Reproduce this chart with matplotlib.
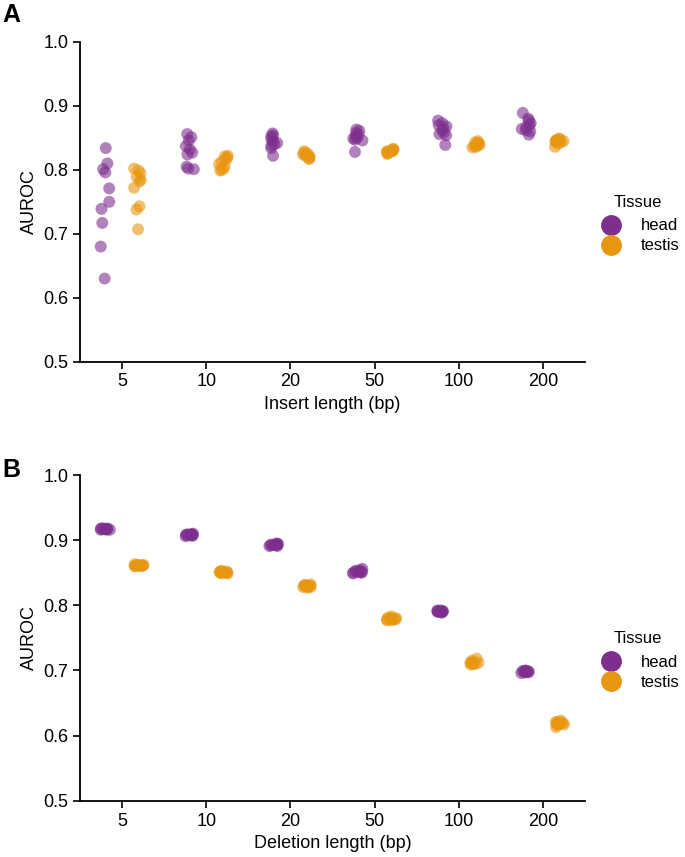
import matplotlib
matplotlib.use('Agg')
import matplotlib.pyplot as plt
import seaborn as sns
import numpy as np
import pandas as pd

lengths = ['5', '10', '20', '50', '100', '200']
tissues = ['head', 'testis']
colors = {'head': '#7E2F8E', 'testis': '#E8960F'}

# panel A: insertions, 10 replicates per group
ins_head = {
    '5': [0.834, 0.810, 0.801, 0.796, 0.771, 0.750, 0.739, 0.717, 0.680, 0.630],
    '10': [0.856, 0.851, 0.846, 0.837, 0.832, 0.827, 0.824, 0.805, 0.802, 0.801],
    '20': [0.857, 0.854, 0.852, 0.848, 0.845, 0.842, 0.840, 0.838, 0.834, 0.822],
    '50': [0.863, 0.861, 0.858, 0.855, 0.852, 0.850, 0.849, 0.847, 0.846, 0.828],
    '100': [0.877, 0.873, 0.870, 0.868, 0.865, 0.862, 0.858, 0.856, 0.854, 0.839],
    '200': [0.889, 0.880, 0.877, 0.873, 0.870, 0.867, 0.864, 0.862, 0.860, 0.855],
}
ins_testis = {
    '5': [0.802, 0.799, 0.795, 0.789, 0.785, 0.782, 0.772, 0.743, 0.738, 0.707],
    '10': [0.822, 0.821, 0.819, 0.817, 0.813, 0.809, 0.806, 0.802, 0.800, 0.799],
    '20': [0.829, 0.827, 0.826, 0.824, 0.823, 0.822, 0.821, 0.820, 0.818, 0.817],
    '50': [0.833, 0.832, 0.831, 0.830, 0.829, 0.829, 0.828, 0.827, 0.826, 0.825],
    '100': [0.845, 0.843, 0.842, 0.841, 0.840, 0.839, 0.838, 0.837, 0.836, 0.835],
    '200': [0.849, 0.848, 0.847, 0.846, 0.845, 0.845, 0.844, 0.843, 0.841, 0.836],
}

# panel B: deletions
del_head = {
    '5': [0.918, 0.918, 0.917, 0.917, 0.917, 0.916, 0.916, 0.917, 0.918, 0.916],
    '10': [0.910, 0.909, 0.909, 0.908, 0.908, 0.907, 0.907, 0.908, 0.909, 0.906],
    '20': [0.895, 0.894, 0.893, 0.893, 0.892, 0.892, 0.891, 0.891, 0.893, 0.894],
    '50': [0.856, 0.854, 0.852, 0.851, 0.851, 0.850, 0.850, 0.849, 0.852, 0.853],
    '100': [0.792, 0.791, 0.791, 0.790, 0.790, 0.789, 0.789, 0.790, 0.791, 0.792],
    '200': [0.700, 0.699, 0.699, 0.698, 0.698, 0.697, 0.697, 0.696, 0.698, 0.699],
}
del_testis = {
    '5': [0.863, 0.862, 0.862, 0.861, 0.861, 0.860, 0.860, 0.861, 0.862, 0.860],
    '10': [0.853, 0.852, 0.852, 0.851, 0.850, 0.850, 0.849, 0.849, 0.851, 0.850],
    '20': [0.832, 0.831, 0.830, 0.829, 0.829, 0.828, 0.828, 0.827, 0.830, 0.831],
    '50': [0.783, 0.781, 0.780, 0.779, 0.778, 0.778, 0.777, 0.777, 0.779, 0.780],
    '100': [0.718, 0.715, 0.713, 0.712, 0.711, 0.711, 0.710, 0.710, 0.712, 0.709],
    '200': [0.623, 0.621, 0.620, 0.619, 0.618, 0.618, 0.617, 0.616, 0.613, 0.620],
}


def to_frame(head, testis):
    rows = []
    for t, d in zip(tissues, [head, testis]):
        for k in lengths:
            for v in d[k]:
                rows.append((k, t, v))
    return pd.DataFrame(rows, columns=['length', 'Tissue', 'AUROC'])


plt.rcParams['font.family'] = ['Liberation Sans', 'DejaVu Sans']
fs = 13

fig = plt.figure(figsize=(6.85, 8.57), dpi=100)
ax_a = fig.add_axes([0.1168, 0.578, 0.737, 0.373])
ax_b = fig.add_axes([0.1168, 0.0657, 0.737, 0.380])

np.random.seed(3)
for ax, (h, t), xlab in [(ax_a, (ins_head, ins_testis), 'Insert length (bp)'),
                         (ax_b, (del_head, del_testis), 'Deletion length (bp)')]:
    df = to_frame(h, t)
    sns.stripplot(data=df, x='length', y='AUROC', hue='Tissue', order=lengths,
                  hue_order=tissues, palette=colors, dodge=True, jitter=0.12,
                  size=8.6, alpha=0.6, linewidth=0, ax=ax)
    ax.set_ylim(0.5, 1.0)
    ax.set_xlim(-0.5, 5.5)
    ax.set_yticks([0.5, 0.6, 0.7, 0.8, 0.9, 1.0])
    ax.set_xlabel(xlab, fontsize=fs)
    ax.set_ylabel('AUROC', fontsize=fs)
    ax.tick_params(length=5, width=1.2, labelsize=fs)
    for s in ['left', 'bottom']:
        ax.spines[s].set_linewidth(1.3)
    sns.despine(ax=ax)
    ax.get_legend().remove()
    handles = [plt.Line2D([], [], marker='o', ls='', color=colors[k],
                          markersize=14) for k in tissues]
    leg = ax.legend(handles, tissues, title='Tissue', frameon=False,
                    loc='center left', bbox_to_anchor=(0.99, 0.43),
                    fontsize=12, title_fontsize=12, handletextpad=0.78,
                    labelspacing=0.3)
    leg._legend_box.sep = 6

fig.text(0.003, 0.997, 'A', fontsize=18, fontweight='bold', va='top')
fig.text(0.003, 0.466, 'B', fontsize=18, fontweight='bold', va='top')

plt.savefig('out.png', dpi=100)
